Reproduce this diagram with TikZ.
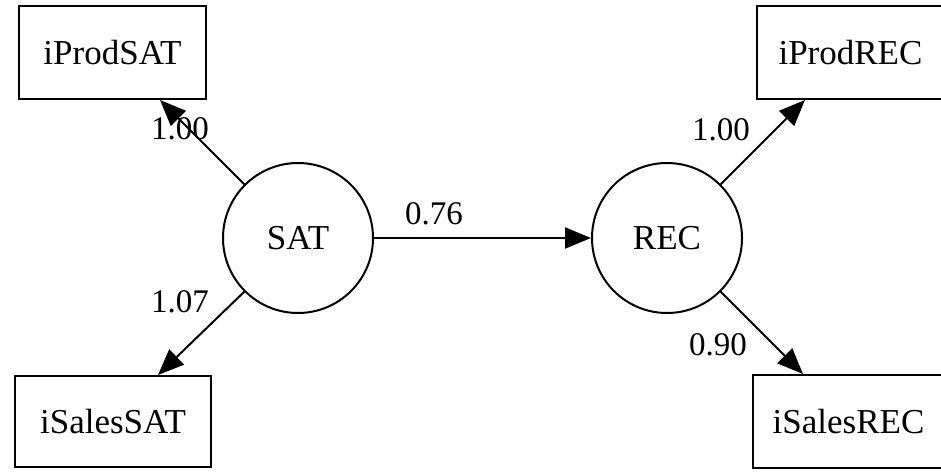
\documentclass[tikz,border=0pt]{standalone}
\usepackage{fontspec}
\setmainfont{Liberation Serif}
\usetikzlibrary{arrows.meta,calc}

\tikzset{
  latent/.style={draw, circle, line width=2pt, minimum size=150pt, inner sep=0pt,
    font=\fontsize{35}{40}\selectfont},
  manifest/.style={draw, rectangle, line width=2pt, minimum height=93pt, inner sep=0pt,
    font=\fontsize{35}{40}\selectfont},
  loading/.style={inner sep=0pt, font=\fontsize{33}{38}\selectfont},
  link/.style={line width=2pt, -{Triangle[length=26pt,width=21pt]}}
}

\begin{document}
\begin{tikzpicture}[x=1pt,y=-1pt]
\useasboundingbox (0,0) rectangle (941,471);
% latent variables
\node [latent] (SAT) at (298,238) {SAT};
\node [latent] (REC) at (667,238) {REC};
% indicators
\node [manifest, minimum width=187pt] (iProdSAT) at (112.5,52.5) {iProdSAT};
\node [manifest, minimum width=196pt, minimum height=91pt] (iSalesSAT) at (113,421.5) {iSalesSAT};
\node [manifest, minimum width=193pt] (iProdREC) at (853.5,52.5) {\hspace*{-6pt}iProdREC};
\node [manifest, minimum width=197pt] (iSalesREC) at (851.5,421.5) {\hspace*{-6pt}iSalesREC};
% loadings and path
\draw [link] (SAT.east) -- (REC.west);
\draw [link] (SAT.135) -- ($(iProdSAT.south)+(47.5,0)$);
\draw [link] (SAT.225) -- ($(iSalesSAT.north)+(45,0)$);
\draw [link] (REC.45) -- ($(iProdREC.south)+(-48.5,0)$);
\draw [link] (REC.315) -- ($(iSalesREC.north)+(-48.5,0)$);
% labels
\node [loading] (wSATREC) at (434,214) {0.76};
\node [loading] (wProdSAT) at (180,129) {1.00};
\node [loading] (wSalesSAT) at (180,302) {1.07};
\node [loading] (wProdREC) at (721,130) {1.00};
\node [loading] (wSalesREC) at (718,345) {0.90};
\end{tikzpicture}
\end{document}
